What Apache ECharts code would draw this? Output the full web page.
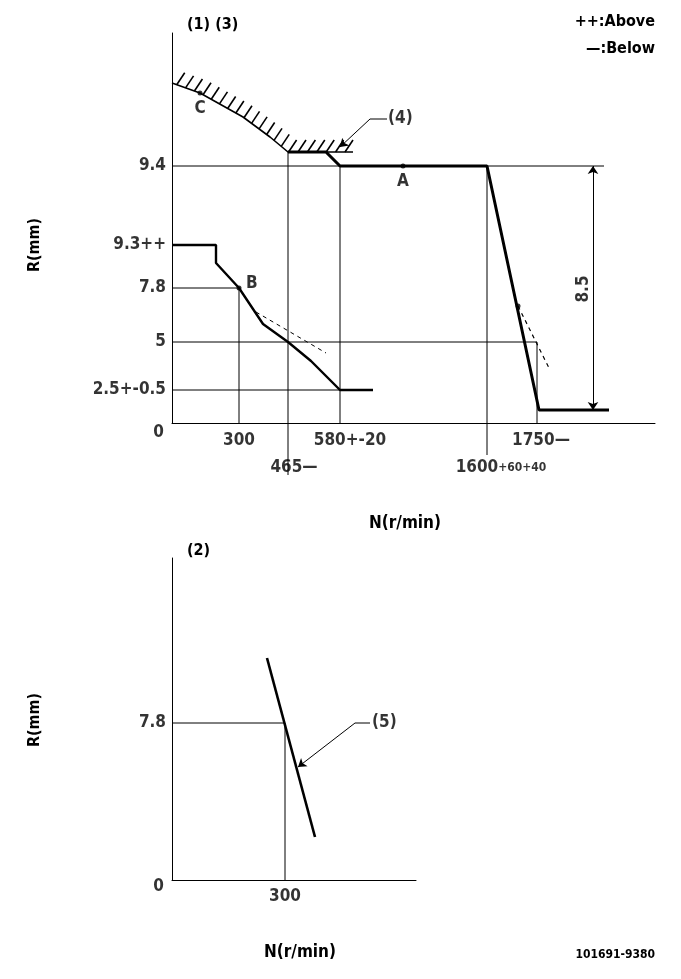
<!DOCTYPE html>
<html>
<head>
<meta charset="utf-8">
<script src="https://cdn.jsdelivr.net/npm/echarts@6/dist/echarts.min.js"></script>
<style>
  html, body { margin: 0; background: #fff; }
  #chart { width: 681px; height: 979px; }
</style>
</head>
<body>
<div id="chart"></div>
<script>
// schematic governor diagram, values in drawing units measured from each axis corner
const FONT = "'DejaVu Sans Condensed', 'Liberation Sans Narrow', sans-serif";

// upper diagram (1)(3)
const rLabelsTop = ['9.4', '9.3++', '7.8', '5', '2.5+-0.5'];
const rLevelsTop = [257, 178, 135, 81, 33];
const nLabelsTop = ['300', '465—', '580+-20', '1600{s|+60+40}', '1750—'];
const nLevelsTop = [67, 116, 168, 315, 365];
const nShiftTop = [0, 6, 10, 14, 4];
const nRowTop = [0, 1, 0, 1, 0];

const limitCurve = [[0, 340], [28, 330], [71, 306], [98, 286], [116, 271], [181, 271]];
const fullLoad = [[116, 271], [154, 271], [168, 257], [315, 257], [367, 13], [437, 13]];
const idleCurve = [[0, 178], [44, 178], [44, 160], [67, 135], [91, 99], [116, 81], [139, 62], [168, 33], [201, 33]];
const idleDashed = [[84, 111], [154, 70]];
const droopDashed = [[346, 117], [378, 53]];
const pointsTop = [[231, 257, 'A'], [67, 135, 'B'], [28, 330, 'C']];
const guidesTop = [
  [[0, 257], [432, 257]],
  [[0, 135], [67, 135], [67, 0]],
  [[0, 81], [365, 81], [365, 0]],
  [[0, 33], [168, 33]],
  [[116, 271], [116, -52]],
  [[168, 257], [168, 0]],
  [[315, 257], [315, -32]]
];
const dimLine = [[421, 257], [421, 13]];
const leader4 = [[215, 304], [198, 304], [168, 276]];

// lower diagram (2)
const rLabelsBottom = ['7.8'];
const rLevelsBottom = [157];
const nLabelsBottom = ['300'];
const nLevelsBottom = [113];
const checkLine = [[95, 222], [143, 43]];
const guidesBottom = [[[0, 157], [113, 157], [113, 0]]];
const leader5 = [[198, 157], [183, 157], [126, 113]];

const tickFont = { fontFamily: FONT, fontWeight: 'bold', fontSize: 17, color: '#000' };

function txt(x, y, text, align, extra) {
  return {
    value: [x, y],
    label: Object.assign({ show: true, position: 'inside', formatter: text, align: align, verticalAlign: 'middle' }, tickFont, extra || {})
  };
}

const topLabels = [];
rLabelsTop.forEach((t, i) => topLabels.push(txt(-6, rLevelsTop[i], t, 'right')));
nLabelsTop.forEach((t, i) => topLabels.push(txt(nLevelsTop[i] + nShiftTop[i], nRowTop[i] ? -45 : -18, t, 'center',
  { rich: { s: { fontFamily: FONT, fontWeight: 'bold', fontSize: 12, color: '#000' } } })));
topLabels.push(txt(-8, -10, '0', 'right'));
pointsTop.forEach(p => {
  if (p[2] === 'A') topLabels.push(txt(p[0], p[1] - 16, 'A', 'center'));
  if (p[2] === 'B') topLabels.push(txt(p[0] + 7, p[1] + 4, 'B', 'left'));
  if (p[2] === 'C') topLabels.push(txt(p[0], p[1] - 16, 'C', 'center'));
});
topLabels.push(txt(216, 304, '(4)', 'left'));
topLabels.push(txt(412, 134, '8.5', 'center', { rotate: 90 }));

const bottomLabels = [];
rLabelsBottom.forEach((t, i) => bottomLabels.push(txt(-6, rLevelsBottom[i], t, 'right')));
nLabelsBottom.forEach((t, i) => bottomLabels.push(txt(nLevelsBottom[i], -17, t, 'center')));
bottomLabels.push(txt(-8, -7, '0', 'right'));
bottomLabels.push(txt(200, 157, '(5)', 'left'));

function poly(points, grid, width, dashed) {
  return {
    type: 'line', xAxisIndex: grid, yAxisIndex: grid, data: points, showSymbol: false, clip: false,
    lineStyle: { color: '#000', width: width, type: dashed ? [4, 4] : 'solid' }, silent: true
  };
}

const series = [];
guidesTop.forEach(g => series.push(poly(g, 0, 1)));
series.push(poly(limitCurve, 0, 1.6));
series.push(poly(fullLoad, 0, 3));
series.push(poly(idleCurve, 0, 2.4));
series.push(poly(idleDashed, 0, 1, true));
series.push(poly(droopDashed, 0, 1.2, true));
guidesBottom.forEach(g => series.push(poly(g, 1, 1)));
series.push(poly(checkLine, 1, 2.6));

// leader lines without heads
series.push(poly(leader4.slice(0, 2), 0, 1));
series.push(poly(leader5.slice(0, 2), 1, 1));

// hatching on the limit curve
series.push({
  type: 'custom', xAxisIndex: 0, yAxisIndex: 0, data: [0], clip: false, silent: true,
  renderItem: function (params, api) {
    const pts = limitCurve.map(p => api.coord(p));
    const children = [];
    const step = 9.4;
    let next = 5;
    let run = 0;
    for (let i = 1; i < pts.length; i++) {
      const a = pts[i - 1], b = pts[i];
      const len = Math.hypot(b[0] - a[0], b[1] - a[1]);
      while (next <= run + len) {
        const t = (next - run) / len;
        const x = a[0] + (b[0] - a[0]) * t, y = a[1] + (b[1] - a[1]) * t;
        children.push({ type: 'line', shape: { x1: x, y1: y, x2: x + 8, y2: y - 12 }, style: { stroke: '#000', lineWidth: 1.6 } });
        next += step;
      }
      run += len;
    }
    return { type: 'group', children: children };
  }
});

// arrowed segments: dimension 8.5 and the leader heads
function arrows(grid, segs, sym, size) {
  return {
    type: 'lines', coordinateSystem: 'cartesian2d', xAxisIndex: grid, yAxisIndex: grid, silent: true,
    symbol: sym, symbolSize: size,
    lineStyle: { color: '#000', width: 1, opacity: 1, curveness: 0 },
    data: segs.map(s => ({ coords: s }))
  };
}
series.push(arrows(0, [dimLine], ['arrow', 'arrow'], 8));
series.push(arrows(0, [leader4.slice(1)], ['none', 'arrow'], [6, 8]));
series.push(arrows(1, [leader5.slice(1)], ['none', 'arrow'], [6, 8]));

// reference points A, B, C and the small mark on the droop line
series.push({
  type: 'scatter', xAxisIndex: 0, yAxisIndex: 0, symbolSize: 5, itemStyle: { color: '#000' }, silent: true,
  data: pointsTop.map(p => [p[0], p[1]]).concat([droopDashed[0]])
});

// text labels placed through the axes
series.push({ type: 'scatter', xAxisIndex: 0, yAxisIndex: 0, symbolSize: 0, clip: false, silent: true, data: topLabels });
series.push({ type: 'scatter', xAxisIndex: 1, yAxisIndex: 1, symbolSize: 0, clip: false, silent: true, data: bottomLabels });

function axis(max) {
  return {
    type: 'value', min: 0, max: max,
    axisLine: { show: true, lineStyle: { color: '#000', width: 1 } },
    axisTick: { show: false }, axisLabel: { show: false }, splitLine: { show: false }
  };
}

const textStyle = { fontFamily: FONT, fontWeight: 'bold', fontSize: 16, fill: '#000' };
function gtext(x, y, text, extra) {
  return Object.assign({ type: 'text', x: x, y: y, style: Object.assign({ text: text, verticalAlign: 'middle' }, textStyle, extra && extra.style || {}) },
    extra && extra.rotation !== undefined ? { rotation: extra.rotation } : {});
}

const chart = echarts.init(document.getElementById('chart'));
chart.setOption({
  animation: false,
  backgroundColor: '#fff',
  grid: [
    { left: 172, top: 33, width: 483, height: 390 },
    { left: 172, top: 558, width: 244, height: 322 }
  ],
  xAxis: [Object.assign(axis(483), { gridIndex: 0 }), Object.assign(axis(244), { gridIndex: 1 })],
  yAxis: [Object.assign(axis(390), { gridIndex: 0 }), Object.assign(axis(322), { gridIndex: 1 })],
  graphic: [
    gtext(187, 25, '(1) (3)'),
    gtext(655, 22, '++:Above', { style: { align: 'right' } }),
    gtext(655, 49, '—:Below', { style: { align: 'right' } }),
    gtext(35, 245, 'R(mm)', { rotation: Math.PI / 2, style: { align: 'center' } }),
    gtext(405, 524, 'N(r/min)', { style: { align: 'center', fontSize: 17 } }),
    gtext(187, 551, '(2)'),
    gtext(35, 720, 'R(mm)', { rotation: Math.PI / 2, style: { align: 'center' } }),
    gtext(300, 953, 'N(r/min)', { style: { align: 'center', fontSize: 17 } }),
    gtext(655, 955, '101691-9380', { style: { align: 'right', fontSize: 12 } })
  ],
  series: series
});
</script>
</body>
</html>
